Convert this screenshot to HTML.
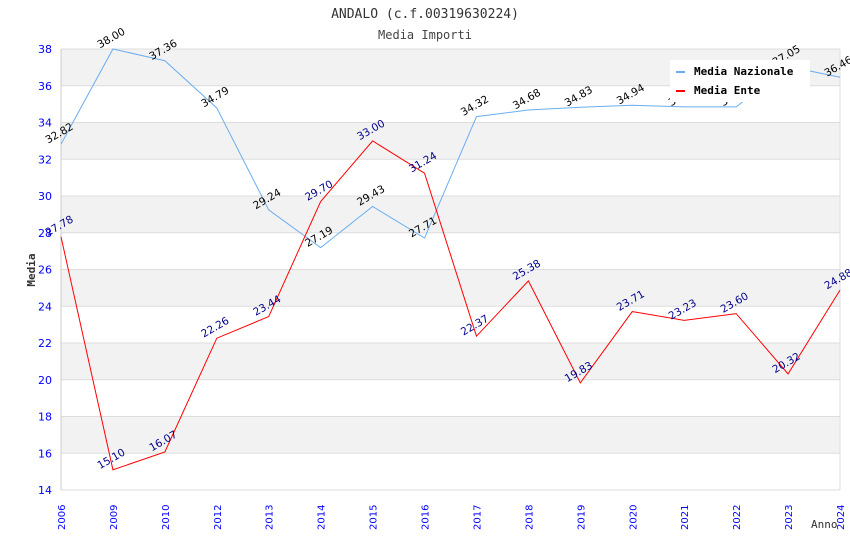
<!DOCTYPE html>
<html><head><meta charset="utf-8"><style>
body{margin:0;background:#fff}
svg{display:block;font-family:"DejaVu Sans Mono","Liberation Mono",monospace}
</style></head><body>
<svg id="chart" width="850" height="550">
<text x="425" y="18" text-anchor="middle" font-size="13" fill="#333">ANDALO (c.f.00319630224)</text>
<text x="425" y="39" text-anchor="middle" font-size="12" fill="#444">Media Importi</text>
<g id="grid"></g><g id="axes"></g><g id="series"></g>
<text x="35" y="270" transform="rotate(-90 35 270)" text-anchor="middle" font-size="11" font-weight="bold" fill="#333">Media</text>
<text x="811" y="528" font-size="11" fill="#333">Anno</text>
<g>
<rect x="670" y="60" width="140" height="42" fill="#fff"/>
<rect x="676" y="71" width="9" height="2" fill="#6aaef0"/>
<text x="694" y="75" font-size="11" font-weight="bold" fill="#000">Media Nazionale</text>
<rect x="676" y="90" width="9" height="2" fill="#f00"/>
<text x="694" y="94" font-size="11" font-weight="bold" fill="#000">Media Ente</text>
</g>
</svg>
<script>
const years=["2006","2009","2010","2012","2013","2014","2015","2016","2017","2018","2019","2020","2021","2022","2023","2024"];
const nazionale=[32.82,38.00,37.36,34.79,29.24,27.19,29.43,27.71,34.32,34.68,34.83,34.94,34.85,34.85,37.05,36.46];
const ente=[27.78,15.10,16.07,22.26,23.44,29.70,33.00,31.24,22.37,25.38,19.83,23.71,23.23,23.60,20.32,24.88];
const yTicks=[14,16,18,20,22,24,26,28,30,32,34,36,38];
const NS="http://www.w3.org/2000/svg";
const X0=61,X1=840,Y0=490,Y1=49,YMIN=14,YMAX=38;
const xs=i=>X0+(X1-X0)*i/(years.length-1);
const ys=v=>Y0-(v-YMIN)/(YMAX-YMIN)*(Y0-Y1);
function mk(t,a,p){const e=document.createElementNS(NS,t);for(const k in a)e.setAttribute(k,a[k]);p.appendChild(e);return e;}
const grid=document.getElementById('grid'),axes=document.getElementById('axes'),ser=document.getElementById('series');
for(let i=0;i<yTicks.length-1;i++){
 if((yTicks.length-2-i)%2===0){const r=mk('rect',{x:X0,y:ys(yTicks[i+1]),width:X1-X0,height:ys(yTicks[i])-ys(yTicks[i+1]),fill:'#f2f2f2'},grid);
 
 }
}
yTicks.forEach(v=>{
 const l=mk('line',{x1:X0,x2:X1,y1:ys(v),y2:ys(v),stroke:'#ddd'},grid);
 
 
 const t=mk('text',{x:X0-9,y:ys(v)+4,'text-anchor':'end','font-size':11,'font-family':'DejaVu Sans, sans-serif',fill:'#00f'},axes);t.textContent=v;
 
 
});
mk('line',{x1:X0,x2:X0,y1:Y1,y2:Y0,stroke:'#ccc'},axes);
mk('line',{x1:X1,x2:X1,y1:Y1,y2:Y0,stroke:'#ddd'},axes);
years.forEach((y,i)=>{
 const t=mk('text',{x:xs(i)+4,y:530,transform:`rotate(-90 ${xs(i)+4} 530)`,'font-size':10,'font-family':'DejaVu Sans, sans-serif',fill:'#00f'},axes);t.textContent=y;
 
 
});
function draw(vals,color,lblColor,name){
 const p=mk('polyline',{points:vals.map((v,i)=>xs(i)+','+ys(v)).join(' '),fill:'none',stroke:color,'stroke-width':1},ser);
 
 
 vals.forEach((v,i)=>{
  const x=xs(i),y=ys(v)-8;
  const t=mk('text',{x:x,y:y,transform:`rotate(-30 ${x} ${y})`,'text-anchor':'middle','font-size':10.5,'font-family':'DejaVu Sans, sans-serif',fill:lblColor},ser);t.textContent=v.toFixed(2);
  
  
 });
}
draw(nazionale,'#6aaef0','#000','nazionale');
draw(ente,'#f00','#00008b','ente');
</script>
</body></html>
